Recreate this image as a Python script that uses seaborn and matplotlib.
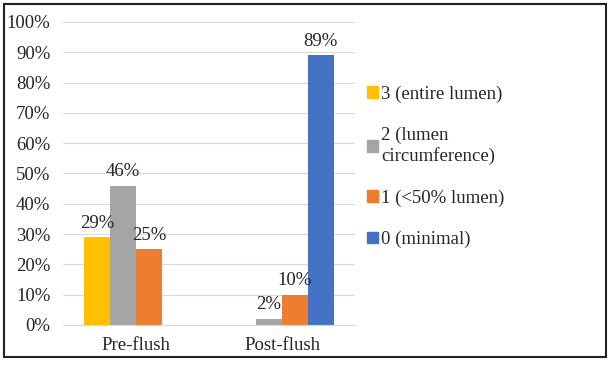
# Gráfico de barras agrupadas: puntuación del lumen antes y después del lavado

import pandas as pd
import matplotlib
matplotlib.use('Agg')
import matplotlib.pyplot as plt
import matplotlib.patches as mpatches
import seaborn as sns

#== datos

categorias = ['Pre-flush', 'Post-flush']
series = ['3 (entire lumen)', '2 (lumen\ncircumference)', '1 (<50% lumen)', '0 (minimal)']
colores = ['#FFC000', '#A5A5A5', '#ED7D31', '#4472C4']

valores_3 = [29, 0]
valores_2 = [46, 2]
valores_1 = [25, 10]
valores_0 = [0, 89]

# DataFrame largo para seaborn
df = pd.DataFrame({
    'momento': categorias * 4,
    'grado': [s for s in series for _ in categorias],
    'pct': valores_3 + valores_2 + valores_1 + valores_0,
})
df['pct'] = df['pct'] / 100

#== estilo

sns.set_style('white')
plt.rcParams['font.family'] = ['Liberation Serif', 'DejaVu Serif']
fs = 13.5

fig = plt.figure(figsize=(6.11, 3.71), dpi=100)
ax = fig.add_axes([0.103, 0.124, 0.478, 0.817])

sns.barplot(data=df, x='momento', y='pct', hue='grado', order=categorias,
            hue_order=series, palette=colores, width=0.71, saturation=1,
            linewidth=0, ax=ax, legend=False)

# Etiquetas de datos (sin ceros)
for cont in ax.containers:
    etiquetas = [f'{v*100:.0f}%' if v > 0 else '' for v in cont.datavalues]
    ax.bar_label(cont, labels=etiquetas, padding=4, fontsize=fs)

ax.set_xlim(-0.5, 1.5)
ax.set_ylim(0, 1)
ax.set_yticks([i / 10 for i in range(11)])
ax.set_yticklabels([f'{i*10}%' for i in range(11)])
ax.grid(axis='y', color='#D9D9D9', linewidth=0.8)
ax.set_axisbelow(True)
ax.set_xlabel('')
ax.set_ylabel('')
ax.tick_params(axis='y', length=0, pad=9, labelsize=fs)
ax.tick_params(axis='x', length=0, pad=9, labelsize=fs)
for lado in ['top', 'right', 'left']:
    ax.spines[lado].set_visible(False)
ax.spines['bottom'].set_color('#D9D9D9')
ax.spines['bottom'].set_linewidth(0.8)

# Leyenda a la derecha
handles = [mpatches.Patch(color=c, label=s) for c, s in zip(colores, series)]
fig.legend(handles=handles, loc='upper left', bbox_to_anchor=(0.589, 0.79),
           frameon=False, fontsize=fs, labelspacing=1.3, handlelength=0.55,
           handleheight=0.55, handletextpad=0.2, borderaxespad=0)

# Marco exterior
fig.patches.append(mpatches.Rectangle((0.006, 0.038), 0.986, 0.952,
                                      transform=fig.transFigure, fill=False,
                                      edgecolor='#222222', linewidth=1.5))

plt.savefig('out.png', dpi=100)
plt.close('all')
